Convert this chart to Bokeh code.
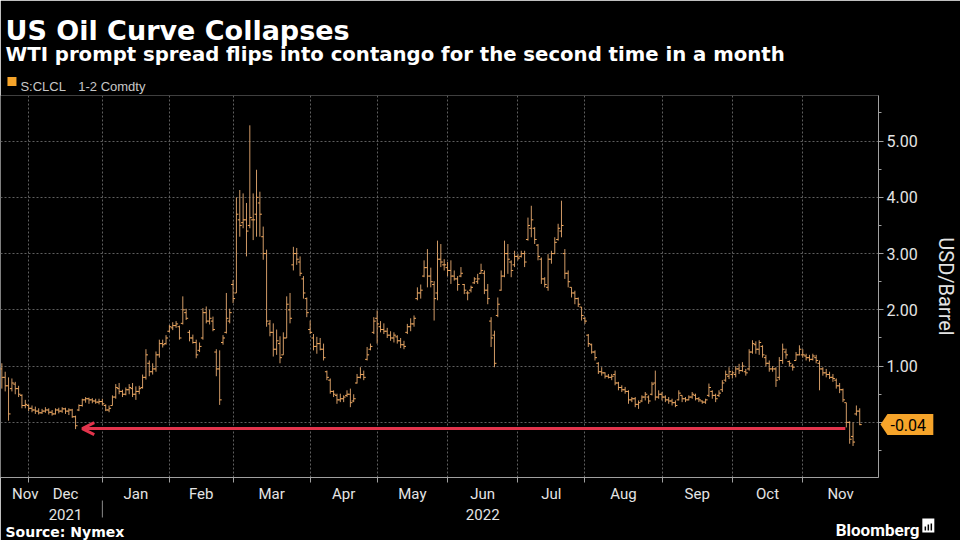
import numpy as np
import pandas as pd
from bokeh.plotting import figure
from bokeh.models import (ColumnDataSource, FixedTicker, Range1d, Arrow, OpenHead,
                          CustomJSTickFormatter)
from bokeh.core.properties import value
from bokeh.embed import file_html
from bokeh.resources import INLINE

# ---------------- data (daily OHLC of WTI 1-2 spread, USD/bbl) ----------------
start_date, end_date = "2021-11-18", "2022-11-25"
holidays = ["2021-11-25", "2021-12-24", "2022-01-17", "2022-02-21", "2022-04-15",
            "2022-05-30", "2022-06-20", "2022-07-04", "2022-09-05", "2022-11-24"]

# rows: (open, high, low, close)
nov21 = [(0.95, 1.05, 0.60, 0.80), (0.80, 0.90, 0.55, 0.65), (0.65, 0.80, 0.03, 0.15),
         (0.60, 0.78, 0.55, 0.70), (0.68, 0.72, 0.50, 0.60), (0.60, 0.65, 0.45, 0.50),
         (0.48, 0.50, 0.25, 0.30), (0.30, 0.40, 0.25, 0.32)]
dec21 = [(0.30, 0.32, 0.20, 0.25), (0.25, 0.30, 0.18, 0.22), (0.22, 0.28, 0.15, 0.20),
         (0.20, 0.25, 0.14, 0.17), (0.17, 0.24, 0.15, 0.20), (0.20, 0.27, 0.17, 0.22),
         (0.22, 0.25, 0.14, 0.18), (0.18, 0.22, 0.12, 0.15), (0.15, 0.25, 0.14, 0.22),
         (0.22, 0.26, 0.16, 0.20), (0.20, 0.27, 0.17, 0.24), (0.24, 0.26, 0.15, 0.20),
         (0.20, 0.25, 0.13, 0.22), (0.22, 0.24, 0.08, 0.10), (0.10, 0.12, -0.12, -0.06),
         (0.22, 0.32, 0.20, 0.30), (0.30, 0.42, 0.28, 0.40), (0.40, 0.45, 0.35, 0.42),
         (0.42, 0.44, 0.33, 0.40), (0.40, 0.43, 0.34, 0.38), (0.38, 0.42, 0.33, 0.36),
         (0.36, 0.42, 0.32, 0.37)]
jan22 = [(0.37, 0.42, 0.30, 0.33), (0.30, 0.32, 0.20, 0.22), (0.22, 0.30, 0.18, 0.25),
         (0.30, 0.48, 0.30, 0.45), (0.45, 0.68, 0.42, 0.62), (0.60, 0.70, 0.50, 0.55),
         (0.55, 0.58, 0.45, 0.50), (0.50, 0.62, 0.48, 0.58), (0.58, 0.68, 0.50, 0.62),
         (0.60, 0.70, 0.45, 0.50), (0.50, 0.64, 0.40, 0.55), (0.55, 0.65, 0.50, 0.60),
         (0.62, 0.85, 0.60, 0.80), (0.80, 1.30, 0.76, 1.20), (1.05, 1.10, 0.82, 0.90),
         (0.90, 1.05, 0.85, 0.95), (0.95, 1.26, 0.90, 1.20), (1.20, 1.47, 1.15, 1.40),
         (1.40, 1.47, 1.33, 1.38), (1.40, 1.55, 1.38, 1.50)]
feb22 = [(1.62, 1.73, 1.60, 1.70), (1.68, 1.78, 1.64, 1.72), (1.72, 1.80, 1.68, 1.75),
         (1.70, 1.72, 1.47, 1.50), (1.76, 2.24, 1.74, 2.00), (1.95, 2.02, 1.82, 1.85),
         (1.60, 1.64, 1.44, 1.50), (1.50, 1.56, 1.40, 1.42), (1.42, 1.47, 1.14, 1.20),
         (1.28, 1.42, 1.25, 1.35), (1.50, 2.03, 1.47, 1.95), (1.95, 2.06, 1.76, 1.80),
         (1.80, 2.00, 1.74, 1.85), (1.80, 1.88, 1.62, 1.65), (1.25, 1.30, 0.82, 0.95),
         (0.95, 1.28, 0.31, 0.40), (1.42, 1.55, 1.38, 1.50), (1.60, 2.30, 1.58, 1.85),
         (1.80, 2.02, 1.76, 1.95)]
mar22 = [(2.45, 2.53, 2.12, 2.20), (2.30, 4.00, 2.30, 3.70), (3.60, 4.13, 3.30, 3.50),
         (3.55, 4.07, 3.45, 3.60), (3.60, 3.90, 2.95, 3.40), (3.50, 5.28, 3.45, 3.64),
         (3.60, 4.07, 3.24, 3.60), (3.70, 4.49, 3.30, 4.00), (3.90, 4.10, 3.30, 3.70),
         (3.30, 3.48, 2.89, 3.00), (3.00, 3.07, 1.70, 1.80), (1.75, 1.82, 1.53, 1.60),
         (1.60, 1.76, 1.17, 1.30), (1.30, 1.65, 1.20, 1.45), (1.40, 1.53, 1.05, 1.15),
         (1.20, 1.60, 1.20, 1.50), (1.50, 2.24, 1.50, 2.10), (2.00, 2.30, 1.76, 1.85),
         (2.80, 3.12, 2.70, 3.00), (3.00, 3.10, 2.80, 2.90), (2.85, 2.95, 2.60, 2.65),
         (2.55, 2.60, 2.20, 2.30), (2.20, 2.22, 1.87, 1.95)]
apr22 = [(1.65, 1.81, 1.57, 1.60), (1.50, 1.57, 1.28, 1.35), (1.35, 1.52, 1.22, 1.40),
         (1.40, 1.50, 1.28, 1.30), (1.30, 1.40, 1.10, 1.15), (0.90, 0.92, 0.75, 0.80),
         (0.75, 0.78, 0.51, 0.55), (0.55, 0.57, 0.45, 0.50), (0.48, 0.51, 0.33, 0.40),
         (0.40, 0.51, 0.36, 0.42), (0.42, 0.48, 0.36, 0.45), (0.48, 0.57, 0.45, 0.50),
         (0.50, 0.60, 0.27, 0.35), (0.38, 0.50, 0.36, 0.42), (0.70, 0.86, 0.69, 0.80),
         (0.80, 0.98, 0.78, 0.85), (0.85, 0.92, 0.75, 0.80), (1.12, 1.34, 1.10, 1.20),
         (1.30, 1.40, 1.28, 1.35), (1.60, 1.87, 1.57, 1.80)]
may22 = [(1.85, 1.99, 1.40, 1.75), (1.70, 1.80, 1.60, 1.65), (1.65, 1.76, 1.57, 1.62),
         (1.62, 1.68, 1.50, 1.55), (1.55, 1.62, 1.45, 1.50), (1.50, 1.60, 1.42, 1.55),
         (1.52, 1.55, 1.40, 1.45), (1.45, 1.50, 1.32, 1.38), (1.38, 1.45, 1.30, 1.35),
         (1.60, 1.75, 1.57, 1.70), (1.70, 1.85, 1.62, 1.75), (1.75, 1.90, 1.70, 1.85),
         (2.20, 2.40, 2.17, 2.30), (2.30, 2.45, 2.20, 2.35), (2.60, 2.88, 2.58, 2.75),
         (2.75, 3.08, 2.40, 2.60), (2.60, 2.75, 2.40, 2.50), (2.45, 2.51, 1.81, 2.20),
         (2.30, 3.23, 2.17, 2.90), (2.90, 3.17, 2.76, 2.85), (2.80, 2.90, 2.70, 2.80)]
jun22 = [(2.75, 2.85, 2.60, 2.70), (2.70, 2.88, 2.46, 2.60), (2.60, 2.70, 2.52, 2.55),
         (2.55, 2.60, 2.34, 2.45), (2.60, 2.76, 2.58, 2.65), (2.45, 2.46, 2.28, 2.35),
         (2.30, 2.34, 2.17, 2.30), (2.35, 2.43, 2.31, 2.40), (2.48, 2.58, 2.46, 2.55),
         (2.50, 2.64, 2.46, 2.55), (2.65, 2.82, 2.64, 2.70), (2.65, 2.70, 2.28, 2.35),
         (2.35, 2.46, 2.10, 2.20), (1.80, 1.87, 1.34, 1.50), (1.55, 1.63, 0.98, 1.05),
         (1.90, 2.22, 1.87, 2.10), (2.35, 2.70, 2.34, 2.60), (2.60, 3.23, 2.58, 3.00),
         (3.00, 3.17, 2.64, 2.90), (2.85, 2.88, 2.58, 2.70), (2.80, 3.05, 2.76, 2.95)]
jul22 = [(2.95, 2.99, 2.88, 2.92), (2.95, 3.05, 2.93, 3.00), (3.00, 3.05, 2.76, 2.85),
         (3.25, 3.64, 3.23, 3.50), (3.45, 3.85, 3.29, 3.60), (3.45, 3.47, 3.17, 3.25),
         (3.15, 3.17, 2.88, 2.95), (2.90, 2.93, 2.46, 2.55), (2.55, 2.58, 2.40, 2.45),
         (2.40, 2.99, 2.34, 2.90), (2.90, 3.05, 2.82, 3.00), (3.00, 3.29, 2.99, 3.20),
         (3.25, 3.53, 3.23, 3.45), (3.40, 3.94, 3.29, 3.50), (3.00, 3.08, 2.55, 2.65),
         (2.65, 2.70, 2.40, 2.50), (2.40, 2.40, 2.22, 2.30), (2.30, 2.34, 2.10, 2.20),
         (2.20, 2.22, 2.05, 2.10), (2.05, 2.05, 1.81, 1.90)]
aug22 = [(1.85, 1.87, 1.75, 1.80), (1.55, 1.57, 1.34, 1.40), (1.38, 1.40, 1.22, 1.25),
         (1.25, 1.28, 1.10, 1.15), (1.05, 1.07, 0.86, 0.90), (0.90, 0.98, 0.83, 0.88),
         (0.88, 0.89, 0.78, 0.82), (0.82, 0.86, 0.78, 0.80), (0.80, 0.86, 0.75, 0.82),
         (0.85, 0.92, 0.66, 0.70), (0.70, 0.72, 0.57, 0.62), (0.62, 0.66, 0.54, 0.58),
         (0.58, 0.63, 0.51, 0.55), (0.55, 0.57, 0.33, 0.40), (0.40, 0.45, 0.36, 0.42),
         (0.42, 0.45, 0.27, 0.32), (0.32, 0.39, 0.24, 0.35), (0.38, 0.48, 0.36, 0.45),
         (0.45, 0.54, 0.39, 0.50), (0.45, 0.48, 0.33, 0.38), (0.50, 0.72, 0.48, 0.68),
         (0.70, 0.92, 0.39, 0.45), (0.45, 0.57, 0.42, 0.50)]
sep22 = [(0.50, 0.54, 0.39, 0.45), (0.45, 0.48, 0.36, 0.40), (0.40, 0.45, 0.33, 0.38),
         (0.38, 0.42, 0.30, 0.35), (0.35, 0.39, 0.27, 0.30), (0.40, 0.57, 0.39, 0.52),
         (0.48, 0.48, 0.36, 0.42), (0.42, 0.45, 0.36, 0.40), (0.40, 0.48, 0.39, 0.45),
         (0.45, 0.54, 0.42, 0.50), (0.48, 0.51, 0.39, 0.42), (0.42, 0.45, 0.36, 0.40),
         (0.38, 0.39, 0.33, 0.36), (0.36, 0.42, 0.33, 0.40), (0.48, 0.69, 0.45, 0.62),
         (0.55, 0.57, 0.42, 0.48), (0.48, 0.51, 0.36, 0.42), (0.48, 0.57, 0.45, 0.52),
         (0.58, 0.75, 0.54, 0.70), (0.75, 0.92, 0.72, 0.85), (0.82, 0.98, 0.77, 0.90)]
oct22 = [(0.85, 0.92, 0.78, 0.88), (0.85, 1.00, 0.80, 0.95), (0.95, 1.04, 0.86, 0.92),
         (0.92, 1.07, 0.90, 1.00), (0.90, 0.95, 0.83, 0.88), (0.95, 1.30, 0.92, 1.25),
         (1.25, 1.46, 1.22, 1.40), (1.38, 1.44, 1.22, 1.30), (1.30, 1.46, 1.20, 1.42),
         (1.35, 1.37, 1.15, 1.20), (1.15, 1.20, 1.00, 1.05), (1.05, 1.10, 0.90, 0.95),
         (0.95, 1.00, 0.90, 0.95), (0.95, 0.98, 0.63, 0.75), (0.80, 1.16, 0.75, 1.10),
         (1.10, 1.40, 1.04, 1.30), (1.25, 1.31, 1.13, 1.20), (1.08, 1.10, 1.00, 1.05),
         (1.00, 1.04, 0.92, 0.98), (1.10, 1.25, 1.10, 1.20), (1.20, 1.37, 1.19, 1.30)]
nov22 = [(1.20, 1.30, 1.15, 1.20), (1.18, 1.22, 1.10, 1.15), (1.15, 1.20, 1.08, 1.12),
         (1.12, 1.22, 1.10, 1.18), (1.15, 1.20, 1.05, 1.10), (1.05, 1.10, 0.57, 0.95),
         (0.95, 0.98, 0.83, 0.88), (0.88, 0.95, 0.80, 0.85), (0.85, 0.90, 0.77, 0.80),
         (0.80, 0.86, 0.72, 0.78), (0.75, 0.78, 0.60, 0.65), (0.65, 0.70, 0.52, 0.58),
         (0.58, 0.60, 0.36, 0.40), (0.35, 0.35, -0.09, 0.00), (0.00, 0.02, -0.38, -0.30),
         (-0.25, 0.00, -0.42, -0.35), (0.15, 0.30, 0.12, 0.20), (0.20, 0.25, -0.05, -0.04)]

month_labels = ["Nov", "Dec\n2021", "Jan", "Feb", "Mar", "Apr", "May", "Jun\n2022",
                "Jul", "Aug", "Sep", "Oct", "Nov"]
y_ticks = [0, 1, 2, 3, 4, 5]
y_minor = [-0.5, 0.5, 1.5, 2.5, 3.5, 4.5, 5.5]
last_value = -0.04

title = "US Oil Curve Collapses"
subtitle = "WTI prompt spread flips into contango for the second time in a month"
series_ticker, series_name = "S:CLCL", "1-2 Comdty"
source_note = "Source: Nymex"
brand = "Bloomberg"
y_label = "USD/Barrel"

# ---------------- build ----------------
rows = nov21 + dec21 + jan22 + feb22 + mar22 + apr22 + may22 + jun22 + jul22 + aug22 + sep22 + oct22 + nov22
dates = pd.bdate_range(start_date, end_date)
dates = dates[~dates.isin(pd.to_datetime(holidays))]
N = len(rows)
assert len(dates) == N, (len(dates), N)

o = np.array([r[0] for r in rows]); h = np.array([r[1] for r in rows])
l = np.array([r[2] for r in rows]); c = np.array([r[3] for r in rows])
x = np.arange(N, dtype=float)
src = ColumnDataSource(dict(x=x, xl=x - 0.6, xr=x + 0.6, o=o, h=h, l=l, c=c))

x_lo, x_hi = -0.4, N + 4.6
y_lo, y_hi = -0.98, 5.81
months = dates.to_period("M")
firsts = [i for i in range(N) if i == 0 or months[i] != months[i - 1]]
bounds = firsts[1:]
label_pos = []
for k, f in enumerate(firsts):
    if k == 0:
        label_pos.append(float(bounds[0] - 1))
    else:
        right = firsts[k + 1] if k + 1 < len(firsts) else x_hi
        label_pos.append((f + right) / 2.0)

W, H = 960, 540
B_L, B_R, B_T, B_B = 0, 79, 95, 63
FW, FH = W - B_L - B_R, H - B_T - B_B
kx = (x_hi - x_lo) / FW     # data units per pixel
ky = (y_hi - y_lo) / FH

def px_x(px):   # page pixel -> data x
    return x_lo + (px - B_L) * kx

def px_y(py):   # page pixel -> data y
    return y_lo + (B_T + FH - py) * ky

p = figure(width=W, height=H, x_range=Range1d(x_lo, x_hi), y_range=Range1d(y_lo, y_hi),
           y_axis_location="right", toolbar_location=None, output_backend="svg",
           background_fill_color="black", border_fill_color="black", outline_line_color=None,
           min_border_left=B_L, min_border_right=B_R, min_border_top=B_T, min_border_bottom=B_B)

GRID = "#5e5e5e"
p.xgrid.ticker = FixedTicker(ticks=bounds)
p.xgrid.grid_line_color = GRID
p.xgrid.grid_line_dash = "2 2"
p.ygrid.grid_line_color = GRID
p.ygrid.grid_line_dash = "2 2"

AX = "#a0a0a0"
TXT = "#e4e4e4"
ORANGE = "#f6a42a"

yax = p.yaxis[0]
yax.ticker = FixedTicker(ticks=y_ticks, minor_ticks=y_minor)
yax.formatter = CustomJSTickFormatter(code="return tick == 0 ? '' : tick.toFixed(2);")
yax.axis_line_color = AX
yax.major_tick_line_color = AX
yax.minor_tick_line_color = AX
yax.major_tick_out = 5
yax.major_tick_in = 0
yax.minor_tick_out = 3
yax.minor_tick_in = 0
yax.major_label_standoff = 3
yax.major_label_text_color = TXT
yax.major_label_text_font = "Roboto"
yax.major_label_text_font_size = "16px"
yax.axis_label = y_label
yax.axis_label_text_font = "Roboto"
yax.axis_label_text_font_size = "20px"
yax.axis_label_text_font_style = "normal"
yax.axis_label_text_color = TXT
yax.axis_label_standoff = 13

xax = p.xaxis[0]
xax.ticker = FixedTicker(ticks=label_pos, minor_ticks=bounds)
xax.formatter = CustomJSTickFormatter(args=dict(pos=label_pos, lab=month_labels), code="""
    let best = 0, bd = 1e9;
    for (let i = 0; i < pos.length; i++) {
        const d = Math.abs(pos[i] - tick);
        if (d < bd) { bd = d; best = i; }
    }
    return lab[best];
""")
xax.axis_line_color = AX
xax.major_tick_line_color = None
xax.major_tick_out = 0
xax.major_tick_in = 0
xax.minor_tick_line_color = AX
xax.minor_tick_out = 5
xax.minor_tick_in = 0
xax.major_label_standoff = 2
xax.major_label_text_color = TXT
xax.major_label_text_font = "Roboto"
xax.major_label_text_font_size = "15px"

# OHLC bars
p.segment(x0="x", y0="l", x1="x", y1="h", source=src, line_color="#d09a66", line_width=1)
p.segment(x0="xl", y0="o", x1="x", y1="o", source=src, line_color="#f4aa5e", line_width=1)
p.segment(x0="x", y0="c", x1="xr", y1="c", source=src, line_color="#f4aa5e", line_width=1)

# red arrow: from first negative bar in Nov 2022 back to the Dec 2021 low
dec_low_i = int(np.argmin(l[:60]))
neg_i = int(np.where(l[200:] < 0)[0][0]) + 200
RED = "#e3344c"
p.add_layout(Arrow(end=OpenHead(line_color=RED, line_width=3, size=12),
                   x_start=neg_i - 0.3, y_start=l[dec_low_i] + 0.01,
                   x_end=dec_low_i + 2, y_end=l[dec_low_i] + 0.01,
                   line_color=RED, line_width=3))

# ---- texts and marks outside the frame (overlay level, not clipped) ----
def txt(s, px, py, size, color, font, style="normal", baseline="alphabetic", align="left"):
    p.text(x=[px_x(px)], y=[px_y(py)], text=[s], text_font=value(font),
           text_font_size=f"{size}px", text_font_style=style, text_color=color,
           text_baseline=baseline, text_align=align, level="overlay")

txt(title, 5, 29.5, 27, "white", "DejaVu Sans", "bold")
txt(subtitle, 5, 53.5, 19.7, "white", "DejaVu Sans", "bold")
p.rect(x=[px_x(11.5)], y=[px_y(81)], width=9, height=9, width_units="screen",
       height_units="screen", fill_color=ORANGE, line_color=None, level="overlay")
txt(series_ticker, 20, 86, 13, "#c8c8c8", "Liberation Sans")
txt(series_name, 78, 86, 13, "#c8c8c8", "Liberation Sans")
txt(source_note, 5, 531, 14, "white", "DejaVu Sans", "bold")
txt(brand, 838, 529, 17, "white", "Roboto", "bold")
# logo: white tile with small black bars
p.rect(x=[px_x(931)], y=[px_y(525)], width=12, height=14, width_units="screen",
       height_units="screen", fill_color="white", line_color=None, level="overlay")
p.rect(x=[px_x(928), px_x(931), px_x(934)], y=[px_y(528), px_y(527), px_y(526.5)],
       width=1.5, height=[4, 6, 7], width_units="screen", height_units="screen",
       fill_color="black", line_color=None, level="overlay")
# year separator under the axis
p.segment(x0=[firsts[2]], x1=[firsts[2]], y0=[px_y(500)], y1=[px_y(517)],
          line_color="#8a8a8a", line_width=1, level="overlay")

# last value tag
tag_x = [x_hi + 2 * kx, x_hi + 9 * kx, x_hi + 55 * kx, x_hi + 55 * kx, x_hi + 9 * kx]
tag_y = [last_value, last_value + 10.5 * ky, last_value + 10.5 * ky,
         last_value - 10.5 * ky, last_value - 10.5 * ky]
p.patch(x=tag_x, y=tag_y, fill_color=ORANGE, line_color=None, level="overlay")
p.text(x=[x_hi + 12 * kx], y=[last_value], text=[f"{last_value:.2f}"], text_font=value("Roboto"),
       text_font_size="16px", text_color="black", text_baseline="middle", text_align="left",
       level="overlay")

open("out.html", "w").write(file_html(p, INLINE))
